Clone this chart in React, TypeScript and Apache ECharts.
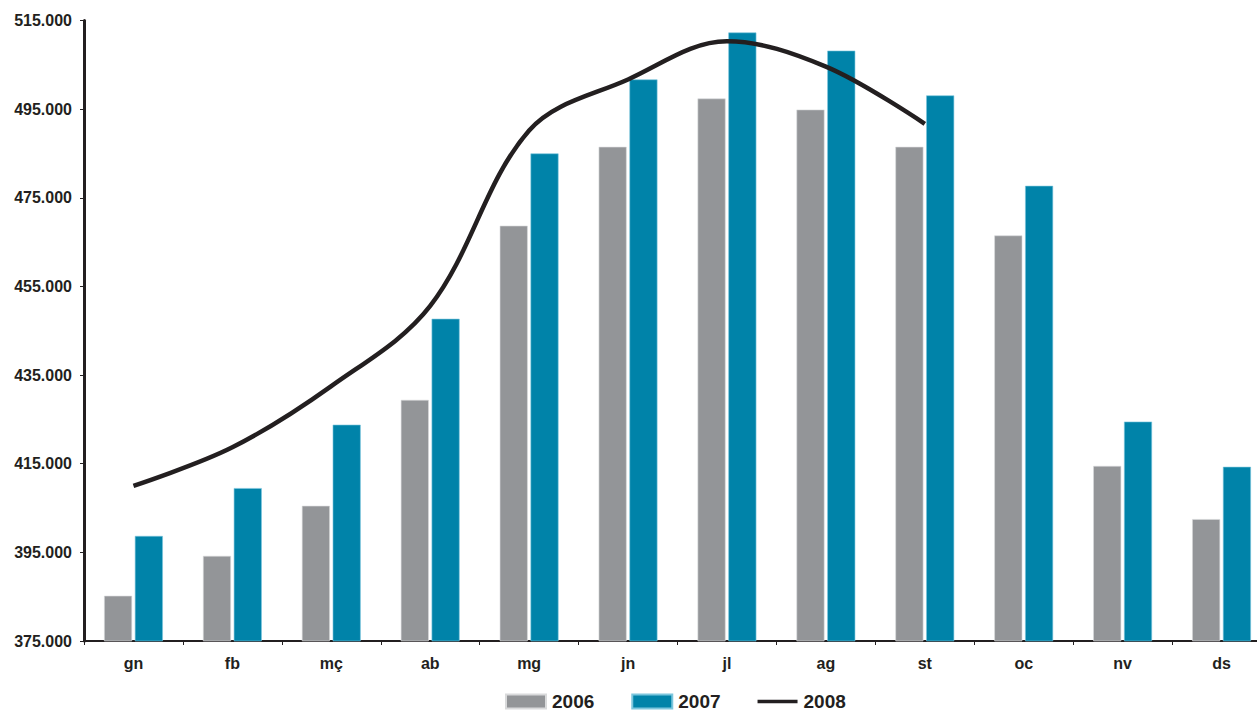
import React, { useEffect, useRef } from "react";
import * as echarts from "echarts";

const categories = ["gn", "fb", "mç", "ab", "mg", "jn", "jl", "ag", "st", "oc", "nv", "ds"];
const values2006 = [385200, 394200, 405500, 429400, 468700, 486500, 497400, 494900, 486500, 466500, 414500, 402500];
const values2007 = [398700, 409500, 423800, 447700, 485000, 501700, 512300, 508200, 498100, 477700, 424500, 414300];
const values2008: (number | null)[] = [410000, 418700, 432500, 450600, 490200, 501700, 510300, 504600, 491700, null, null, null];

const fmt = (v: number) => {
  const s = Math.round(v).toString();
  return s.replace(/\B(?=(\d{3})+(?!\d))/g, ".");
};

export default function App() {
  const ref = useRef<HTMLDivElement>(null);
  useEffect(() => {
    if (!ref.current) return;
    const chart = echarts.init(ref.current, undefined, { renderer: "svg" });
    const font = "'Liberation Sans', Arial, sans-serif";
    chart.setOption({
      animation: false,
      textStyle: { fontFamily: font },
      grid: { left: 84, right: 0, top: 20.5, bottom: 72, containLabel: false },
      legend: {
        top: 692,
        left: 505,
        padding: 0,
        itemWidth: 40,
        itemHeight: 14,
        itemGap: 37,
        textStyle: {
          fontFamily: font,
          fontWeight: "bold",
          fontSize: 19,
          lineHeight: 15,
          color: "#231f20",
          padding: [0, 0, 0, 1],
        },
        data: [
          { name: "2006", icon: "rect" },
          { name: "2007", icon: "rect" },
          { name: "2008", icon: "path://M0,0 L40,0 L40,3.5 L0,3.5 Z" },
        ],
      },
      xAxis: {
        type: "category",
        data: categories,
        axisLine: { lineStyle: { color: "#231f20", width: 2 } },
        axisTick: { show: true, length: 4, lineStyle: { color: "#231f20", width: 1 } },
        axisLabel: { fontFamily: font, fontWeight: "bold", fontSize: 16, color: "#231f20", margin: 14 },
      },
      yAxis: {
        type: "value",
        min: 375000,
        max: 515000,
        interval: 20000,
        splitLine: { show: false },
        axisLine: { show: true, lineStyle: { color: "#231f20", width: 3 } },
        axisTick: { show: true, length: 4, lineStyle: { color: "#231f20", width: 1 } },
        axisLabel: {
          fontFamily: font,
          fontWeight: "bold",
          fontSize: 16,
          color: "#231f20",
          margin: 12,
          formatter: (v: number) => fmt(v),
        },
      },
      series: [
        {
          name: "2006",
          type: "bar",
          data: values2006,
          barWidth: 28,
          barGap: "10%",
          itemStyle: { color: "#939598", borderColor: "#d9dadb", borderWidth: 0.6 },
        },
        {
          name: "2007",
          type: "bar",
          data: values2007,
          barWidth: 28,
          barGap: "10%",
          itemStyle: { color: "#0083a9", borderColor: "#7cc6dd", borderWidth: 0.6 },
        },
        {
          name: "2008",
          type: "line",
          data: values2008,
          smooth: 0.35,
          symbol: "none",
          connectNulls: false,
          lineStyle: { color: "#231f20", width: 4.5 },
          itemStyle: { color: "#231f20" },
        },
      ],
    });
    return () => chart.dispose();
  }, []);
  return (
    <div style={{ width: 1257, height: 713, position: "absolute", left: 0, top: 0, overflow: "hidden" }}>
      <div ref={ref} style={{ width: 1271, height: 713 }} />
    </div>
  );
}
